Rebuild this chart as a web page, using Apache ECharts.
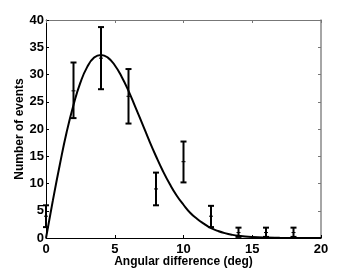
<!DOCTYPE html>
<html><head><meta charset="utf-8">
<script src="https://cdn.jsdelivr.net/npm/echarts@6/dist/echarts.min.js"></script>
<style>html,body{margin:0;padding:0;background:#fff}#c{width:354px;height:269px}</style>
</head><body><div id="c"></div>
<script>
var binX   = [0, 2, 4, 6, 8, 10, 12, 14, 16, 18];
var binMid = [4, 27, 33, 26, 9, 14, 4, 1, 1, 1];
var binLow = [2, 22, 27.3, 21, 6, 10.2, 2, 0.2, 0.2, 0.2];
var binHigh= [6, 32.2, 38.7, 31, 12, 17.7, 5.9, 1.9, 1.9, 1.9];
var curveX = [0,0.5,1,1.5,2,2.5,3,3.5,4,4.5,5,5.5,6,6.5,7,7.5,8,8.5,9,9.5,10,10.5,11,11.5,12,12.5,13,13.5,14,15,16,17,18,20];
var curveY = [0,6.9,13.4,19.4,24.4,28.5,31.4,33.1,33.6,33.1,31.7,29.6,27.0,24.0,21.0,17.9,15.0,12.3,9.9,7.8,6.1,4.6,3.5,2.6,1.8,1.3,0.9,0.6,0.4,0.18,0.07,0.03,0.01,0];
var xTicks = [0,5,10,15,20];
var yTicks = [0,5,10,15,20,25,30,35,40];

var font = 'Liberation Sans, Arial, sans-serif';
var errData = binX.map(function(x,i){return [x, binLow[i], binHigh[i], binMid[i]];});
var curveData = curveX.map(function(x,i){return [x, curveY[i]];});

var chart = echarts.init(document.getElementById('c'), null, {renderer:'canvas'});
chart.setOption({
  animation:false,
  backgroundColor:'#fff',
  grid:{left:46, right:33, top:20, bottom:31, outerBoundsMode:'none', containLabel:false},
  xAxis:[{
    type:'value', min:0, max:20, interval:5,
    name:'Angular difference (deg)', nameLocation:'middle', nameGap:18, nameMoveOverlap:false,
    nameTextStyle:{fontFamily:font, fontWeight:'bold', fontSize:12, color:'#000'},
    axisLine:{show:true, onZero:false, lineStyle:{color:'#000', width:1}},
    axisTick:{show:true, inside:true, length:3, lineStyle:{color:'#000'}},
    axisLabel:{fontFamily:font, fontWeight:'bold', fontSize:13, color:'#000', margin:5},
    splitLine:{show:false}
  },{
    type:'value', min:0, max:20, interval:5, position:'top',
    axisLine:{show:true, onZero:false, lineStyle:{color:'#777', width:1}},
    axisTick:{show:true, inside:true, length:3, lineStyle:{color:'#777'}},
    axisLabel:{show:false}, splitLine:{show:false}
  }],
  yAxis:[{
    type:'value', min:0, max:40, interval:5,
    name:'Number of events', nameLocation:'middle', nameGap:20, nameRotate:90, nameMoveOverlap:false,
    nameTextStyle:{fontFamily:font, fontWeight:'bold', fontSize:12, color:'#000'},
    axisLine:{show:true, onZero:false, lineStyle:{color:'#000', width:1}},
    axisTick:{show:true, inside:true, length:3, lineStyle:{color:'#000'}},
    axisLabel:{fontFamily:font, fontWeight:'bold', fontSize:13, color:'#000', margin:2},
    splitLine:{show:false}
  },{
    type:'value', min:0, max:40, interval:5, position:'right',
    axisLine:{show:true, onZero:false, lineStyle:{color:'#888', width:1.5}},
    axisTick:{show:true, inside:true, length:3, lineStyle:{color:'#777'}},
    axisLabel:{show:false}, splitLine:{show:false}
  }],
  series:[{
    type:'line', data:curveData, smooth:true, symbol:'none',
    lineStyle:{color:'#000', width:2}, clip:true
  },{
    type:'custom', data:errData,
    renderItem:function(params, api){
      var x = api.value(0);
      var lo = api.coord([x, api.value(1)]);
      var hi = api.coord([x, api.value(2)]);
      var mid = api.coord([x, api.value(3)]);
      var c = 3;
      var st = {stroke:'#000', lineWidth:2};
      return {type:'group', children:[
        {type:'line', shape:{x1:lo[0], y1:lo[1], x2:hi[0], y2:hi[1]}, style:st},
        {type:'line', shape:{x1:lo[0]-c, y1:lo[1], x2:lo[0]+c, y2:lo[1]}, style:st},
        {type:'line', shape:{x1:hi[0]-c, y1:hi[1], x2:hi[0]+c, y2:hi[1]}, style:st},
        {type:'line', shape:{x1:mid[0]-2, y1:mid[1], x2:mid[0]+2, y2:mid[1]}, style:{stroke:'#000', lineWidth:1}}
      ]};
    }
  }]
});
</script></body></html>
